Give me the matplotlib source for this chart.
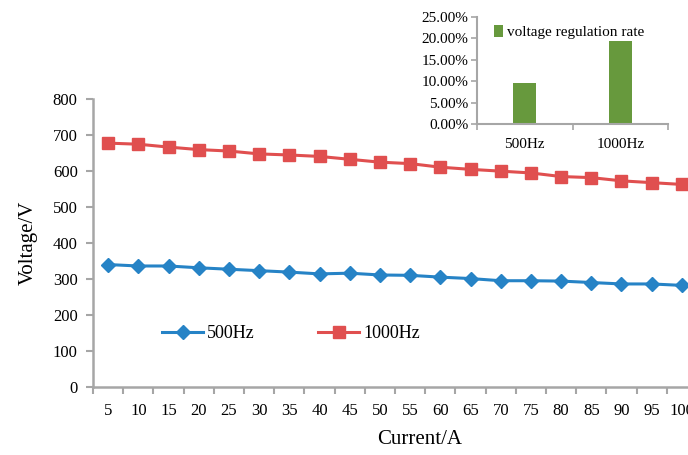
import matplotlib
matplotlib.use("Agg")
import matplotlib.pyplot as plt
import numpy as np

plt.rcParams['font.family'] = ['Liberation Serif', 'DejaVu Serif']

currents = [5, 10, 15, 20, 25, 30, 35, 40, 45, 50, 55, 60, 65, 70, 75, 80, 85, 90, 95, 100]
v500 = [340, 336, 336, 331, 327, 323, 319, 314, 316, 311, 310, 305, 301, 295, 295, 294, 290, 286, 286, 282]
v1000 = [678, 675, 667, 660, 656, 648, 645, 641, 633, 625, 621, 611, 605, 600, 595, 585, 582, 573, 568, 563]
freq_labels = ['500Hz', '1000Hz']
reg_rate = [9.62, 19.27]

W, H = 688, 455
fig = plt.figure(figsize=(W / 100, H / 100), dpi=100)

gray = '#A6A6A6'
blue = '#2683C6'
red = '#E04F4F'
green = '#67993D'

# main axes (extends past right edge like the reference)
left, right, top, bottom = 93, 697, 99.3, 386.7
ax = fig.add_axes([left / W, 1 - bottom / H, (right - left) / W, (bottom - top) / H])
x = np.arange(1, len(currents) + 1)
ax.plot(x, v500, color=blue, lw=2.2, marker='D', ms=7, label='500Hz')
ax.plot(x, v1000, color=red, lw=2.2, marker='s', ms=8, label='1000Hz')
ax.set_xlim(0.5, len(currents) + 0.5)
ax.set_ylim(0, 800)
ax.set_yticks(range(0, 801, 100))
ax.set_xticks(x)
ax.set_xticklabels([str(c) for c in currents])
ax.set_xticks(np.arange(0.5, len(currents) + 1, 1), minor=True)
ax.tick_params(axis='x', which='major', length=0, labelsize=12, pad=12)
ax.tick_params(axis='x', which='minor', length=5, color=gray, width=1.5)
ax.tick_params(axis='y', length=5, color=gray, width=1.5, labelsize=12, pad=6)
for s in ['top', 'right']:
    ax.spines[s].set_visible(False)
for s in ['left', 'bottom']:
    ax.spines[s].set_color(gray)
    ax.spines[s].set_linewidth(1.8)
ax.patch.set_alpha(0)
ax.legend(loc='upper left', bbox_to_anchor=(0.087, 0.271), ncol=2, frameon=False,
          fontsize=13, handlelength=2.3, handletextpad=0.2, columnspacing=3.5)
fig.text(420 / W, 1 - 440 / H, 'Current/A', ha='center', va='center', fontsize=15)
fig.text(28 / W, 1 - 243 / H, 'Voltage/V', ha='center', va='center', fontsize=15, rotation=90)

# inset bar chart
il, ir, it, ib = 477, 668, 16.7, 124
ax2 = fig.add_axes([il / W, 1 - ib / H, (ir - il) / W, (ib - it) / H])
xb = np.arange(len(freq_labels))
ax2.bar(xb, reg_rate, width=0.24, color=green, label='voltage regulation rate')
ax2.set_xlim(-0.5, len(freq_labels) - 0.5)
ax2.set_ylim(0, 25)
ax2.set_yticks(np.arange(0, 25.1, 5))
ax2.set_yticklabels(['%.2f%%' % v for v in np.arange(0, 25.1, 5)])
ax2.set_xticks(xb)
ax2.set_xticklabels(freq_labels)
ax2.set_xticks(np.arange(-0.5, len(freq_labels), 1), minor=True)
ax2.tick_params(axis='x', which='major', length=0, labelsize=11, pad=10)
ax2.tick_params(axis='x', which='minor', length=4, color=gray, width=1.2)
ax2.tick_params(axis='y', length=4, color=gray, width=1.2, labelsize=11, pad=2)
for s in ['top', 'right']:
    ax2.spines[s].set_visible(False)
for s in ['left', 'bottom']:
    ax2.spines[s].set_color(gray)
    ax2.spines[s].set_linewidth(1.5)
ax2.patch.set_alpha(0)
ax2.legend(loc='upper left', bbox_to_anchor=(0.015, 1.05), frameon=False, fontsize=11,
           handlelength=0.6, handleheight=0.8, handletextpad=0.3)

fig.savefig('out.png', dpi=100)
